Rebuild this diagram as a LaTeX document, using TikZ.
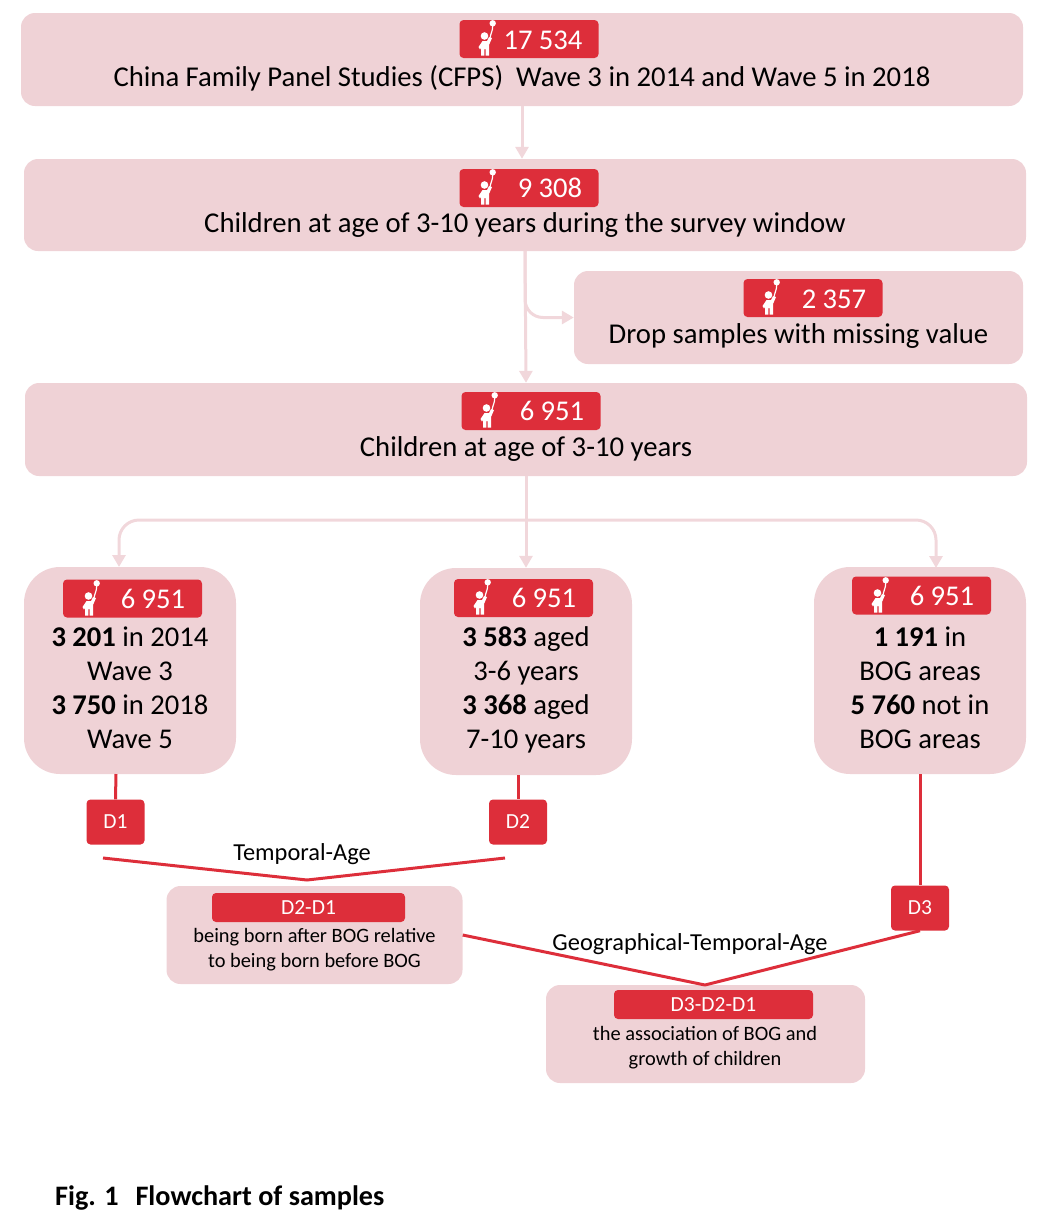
\documentclass[tikz,border=0pt]{standalone}
\usepackage{fontspec}
\usetikzlibrary{arrows.meta}
\setmainfont{Carlito}
\definecolor{boxpink}{HTML}{EFD2D6}
\definecolor{flowpink}{HTML}{F1D7DB}
\definecolor{tagred}{HTML}{DD2E3A}
\tikzset{
	panel/.style={fill=boxpink,rounded corners=14pt,inner sep=0pt},
	tallpanel/.style={fill=boxpink,rounded corners=36pt,minimum width=212pt,minimum height=207pt,inner sep=0pt},
	notepanel/.style={fill=boxpink,rounded corners=14pt,inner sep=0pt},
	badge/.style={fill=tagred,rounded corners=4pt,minimum width=139pt,minimum height=38pt,inner sep=0pt},
	dtag/.style={fill=tagred,rounded corners=4pt,text=white,font=\fontsize{21.5}{25}\selectfont,inner sep=0pt},
	count/.style={text=white,font=\fontsize{28.6}{32}\selectfont,inner sep=0pt},
	maintext/.style={font=\fontsize{28.7}{32}\selectfont,inner sep=0pt},
	grouptext/.style={font=\fontsize{28.6}{34}\selectfont,align=center,inner sep=0pt},
	smalltext/.style={font=\fontsize{20.4}{25}\selectfont,align=center,inner sep=0pt},
	midtext/.style={font=\fontsize{24.4}{27}\selectfont,inner sep=0pt},
	flow/.style={draw=flowpink,line width=3pt,-{Triangle[length=12pt,width=13pt]}},
	link/.style={draw=tagred,line width=3pt},
	kid/.pic={
		\fill[white] (7.7,-14.7) circle (3.2);
		\draw[white,line width=1.2pt] (7.7,-12) to[out=-90,in=80] (5,0);
		\fill[white] (-0.5,-2) circle (3.8);
		\fill[white] (-6.5,9)--(-2.5,3)--(2,3)--(4,-1)--(7,0)--(4,7)--(4,17.5)--(0.6,17.5)--(0.6,11)--(-0.6,11)--(-0.6,17.5)--(-4,17.5)--(-4,10)--(-5,11.5)--cycle;
	}
}
\begin{document}
\begin{tikzpicture}[line join=round,x=1pt,y=-1pt]
	\useasboundingbox (0,0) rectangle (1052,1227);
	% top boxes
	\node[panel,minimum width=1002pt,minimum height=93pt] (cfps) at (522,59.5) {};
	\node[panel,minimum width=1002pt,minimum height=92pt] (children) at (525,205) {};
	\node[panel,minimum width=449pt,minimum height=93pt] (drop) at (798.5,317.5) {};
	\node[panel,minimum width=1002pt,minimum height=93pt] (sample) at (526,429.5) {};
	\node[badge] (bcfps) at (529,39) {};
	\node[badge] (bchildren) at (529,188) {};
	\node[badge] (bdrop) at (813,298) {};
	\node[badge] (bsample) at (531,411) {};
	\pic at (485,38) {kid};
	\pic at (485,187) {kid};
	\pic at (769,297) {kid};
	\pic at (487,410) {kid};
	\node[count] (ncfps) at (543,40) {17 534};
	\node[count] (nchildren) at (550,188) {9 308};
	\node[count] (ndrop) at (834,299) {2 357};
	\node[count] (nsample) at (552,411) {6 951};
	\node[maintext] (tcfps) at (522,78) {China Family Panel Studies (CFPS)\ \ Wave 3 in 2014 and Wave 5 in 2018};
	\node[maintext] (tchildren) at (525,225) {Children at age of 3-10 years during the survey window};
	\node[maintext] (tdrop) at (798.5,336) {Drop samples with missing value};
	\node[maintext] (tsample) at (526,449) {Children at age of 3-10 years};
	% three groups
	\node[tallpanel] (wave) at (130,670.5) {};
	\node[tallpanel] (age) at (526,671.5) {};
	\node[tallpanel] (area) at (920,670.5) {};
	\node[badge] (bwave) at (132.5,598.5) {};
	\node[badge] (bage) at (523.5,598) {};
	\node[badge] (barea) at (921.5,595.5) {};
	\pic at (89,598) {kid};
	\pic at (480,597) {kid};
	\pic at (878,595) {kid};
	\node[count] (nwave) at (153,599) {6 951};
	\node[count] (nage) at (544,598) {6 951};
	\node[count] (narea) at (942,596) {6 951};
	\node[grouptext] (twave) at (130,688) {\textbf{3 201} in 2014\\Wave 3\\\textbf{3 750} in 2018\\Wave 5};
	\node[grouptext] (tage) at (526,689.5) {\textbf{3 583} aged\\3-6 years\\\textbf{3 368} aged\\7-10 years};
	\node[grouptext] (tarea) at (920,688) {\textbf{1 191} in\\BOG areas\\\textbf{5 760} not in\\BOG areas};
	% red tags
	\node[dtag,minimum width=58pt,minimum height=45pt] (d1) at (115.5,822) {D1};
	\node[dtag,minimum width=58pt,minimum height=45pt] (d2) at (518,822) {D2};
	\node[dtag,minimum width=58pt,minimum height=45pt] (d3) at (920,908) {D3};
	% result boxes
	\node[notepanel,minimum width=296pt,minimum height=98pt] (diff) at (314.5,935) {};
	\node[notepanel,minimum width=319pt,minimum height=98pt] (triple) at (705.5,1034) {};
	\node[dtag,minimum width=193pt,minimum height=29pt] (bdiff) at (308.5,907.5) {D2-D1};
	\node[dtag,minimum width=199pt,minimum height=29pt] (btriple) at (713.5,1004.5) {D3-D2-D1};
	\node[smalltext] (tdiff) at (314.5,949.5) {being born after BOG relative\\to being born before BOG};
	\node[smalltext] (ttriple) at (705,1047.5) {the association of BOG and\\growth of children};
	\node[midtext] (ltemporal) at (302,854) {Temporal-Age};
	\node[midtext] (lgeo) at (690,944) {Geographical-Temporal-Age};
	\node[anchor=west,inner sep=0pt,font=\fontsize{28.2}{30}\selectfont\bfseries] (caption) at (55,1198) {Fig. 1\ \ \hspace{4pt}Flowchart of samples};
	% arrows
	\draw[flow] (cfps.south)--(cfps.south|-children.north);
	\draw[flow] (children.south)--(sample.north);
	\draw[flow,rounded corners=18pt] (children.south)|-(drop.west);
	\coordinate (fork) at (526,520);
	\coordinate (wavein) at (119,567);
	\coordinate (areain) at (936,568);
	\draw[flow] (sample.south)--(age.north);
	\draw[flow,rounded corners=20pt] (fork)-|(wavein);
	\draw[flow,rounded corners=20pt] (fork)-|(areain);
	% red links
	\coordinate (wavefoot) at (116,774);
	\coordinate (agefoot) at (518,775);
	\coordinate (left) at (103,858);
	\coordinate (right) at (505,858);
	\coordinate (apex) at (307,880);
	\coordinate (apextwo) at (705,985);
	\draw[link] (wavefoot)--(d1.north);
	\draw[link] (agefoot)--(d2.north);
	\draw[link] (area.south)--(d3.north);
	\draw[link] (left)--(apex)--(right);
	\draw[link] (diff.east)--(apextwo)--(d3.south);
\end{tikzpicture}
\end{document}
